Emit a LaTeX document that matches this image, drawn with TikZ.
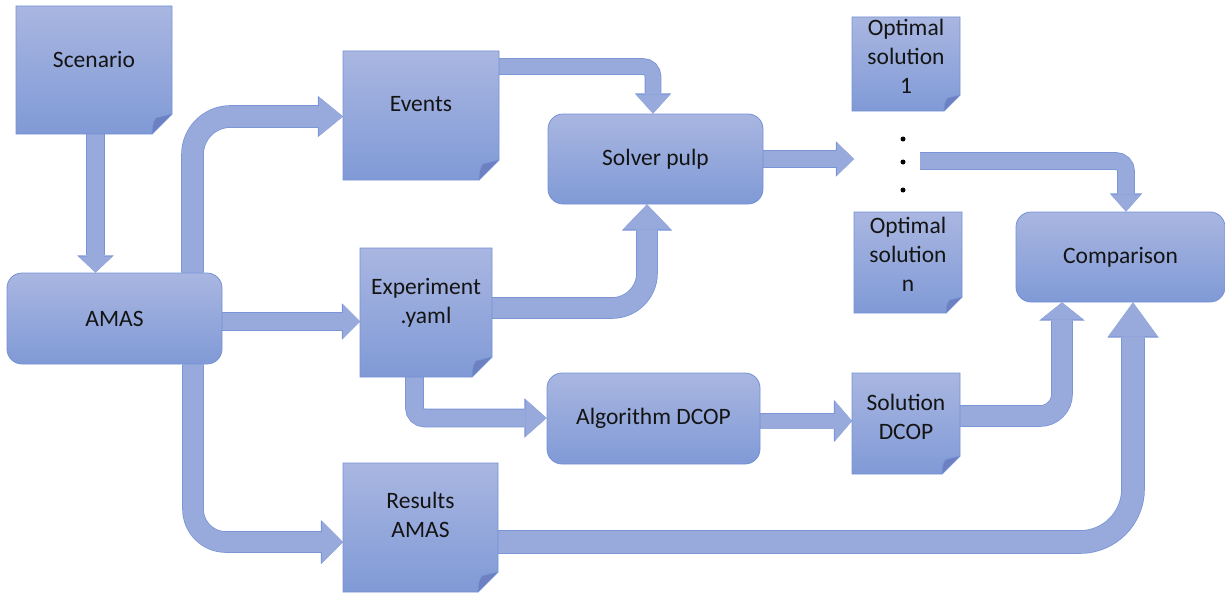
\documentclass[tikz,border=0pt]{standalone}
\usepackage{fontspec}
\setmainfont{Carlito}
\usetikzlibrary{arrows.meta,calc}
\definecolor{boxtop}{HTML}{A9B6E1}
\definecolor{boxbot}{HTML}{809AD6}
\definecolor{bord}{HTML}{7591D4}
\definecolor{foldc}{HTML}{6C80C2}
\definecolor{arfill}{HTML}{98AADC}
\definecolor{arbord}{HTML}{7A94D6}
\definecolor{txtcol}{HTML}{141414}
\pgfdeclarelayer{arw}
\pgfdeclarelayer{boxl}
\pgfsetlayers{arw,boxl,main}
\newcommand\blockarrow[5][]{%
  \pgfmathsetmacro\bwA{#2+1.6}\pgfmathsetmacro\bL{#3+1.2}\pgfmathsetmacro\bW{#4+2.4}%
  \draw[#1, line width=\bwA pt, draw=arbord, -{Triangle[length=\bL pt, width=\bW pt, line width=0pt, fill=arbord, color=arbord]}] #5;
  \draw[#1, line width=#2pt, draw=arfill, -{Triangle[length=#3pt, width=#4pt, line width=0pt, fill=arfill, color=arfill]}] #5;}
\tikzset{
  notebox/.style={rectangle, inner sep=0pt, outer sep=0pt},
  txt/.style={font=\fontsize{23.5}{29}\selectfont, text=txtcol, align=center, inner sep=0pt},
  rbox/.style={rectangle, rounded corners=15pt, draw=bord, line width=0.8pt,
    top color=boxtop, bottom color=boxbot, font=\fontsize{23.5}{29}\selectfont, text=txtcol, inner sep=0pt},
  dotn/.style={circle, fill=black, inner sep=0pt, minimum size=5pt}
}
\begin{document}
\begin{tikzpicture}[x=1pt,y=-1pt]
\useasboundingbox (0,0) rectangle (1225,594);
% note boxes (shapes drawn on layer)
\node[notebox, minimum width=156, minimum height=128] (scen) at (94,70) {};
\node[notebox, minimum width=156, minimum height=129] (events) at (421,115.5) {};
\node[notebox, minimum width=132, minimum height=129] (exp) at (426,312.5) {};
\node[notebox, minimum width=155, minimum height=129] (res) at (420.5,527.5) {};
\node[notebox, minimum width=108, minimum height=94] (opt1) at (906,64) {};
\node[notebox, minimum width=108, minimum height=101] (optn) at (908,262.5) {};
\node[notebox, minimum width=108, minimum height=101] (sol) at (906,423.5) {};
% texts of note boxes
\node[txt] (scen-t) at (94,60) {Scenario};
\node[txt] (events-t) at (421,104.5) {Events};
\node[txt] (exp-t) at (426,302.5) {Experiment\\.yaml};
\node[txt] (res-t) at (420.5,515) {Results\\AMAS};
\node[txt] (opt1-t) at (906,56) {Optimal\\solution\\1};
\node[txt] (optn-t) at (908,254) {Optimal\\solution\\n};
\node[txt] (sol-t) at (906,417) {Solution\\DCOP};
% rounded boxes
\node[rbox, minimum width=215, minimum height=91] (amas) at (114.5,318.5) {AMAS};
\node[rbox, minimum width=215, minimum height=90] (solver) at (655.5,159) {Solver pulp};
\node[rbox, minimum width=213, minimum height=91] (algo) at (653.5,418.5) {Algorithm DCOP};
\node[rbox, minimum width=209, minimum height=90] (comp) at (1120.5,257) {Comparison};
% dots
\node[dotn] (d1) at (903,139) {};
\node[dotn] (d2) at (903,162) {};
\node[dotn] (d3) at (903,190) {};
\coordinate (din) at (854,159);
\coordinate (dout) at (920,161);
\begin{pgfonlayer}{boxl}
\foreach \n/\f in {scen/20,events/20,exp/20,res/20,opt1/16,optn/16,sol/18}{
  \draw[bord, line width=0.8pt, top color=boxtop, bottom color=boxbot]
    (\n.north west) -- (\n.north east) -- ($(\n.south east)+(0,-\f)$)
    -- ($(\n.south east)+(-\f,0)$) -- (\n.south west) -- cycle;
  \draw[bord, line width=0.6pt, fill=foldc, line join=round]
    ($(\n.south east)+(-\f,0)$) .. controls ($(\n.south east)+(-0.95*\f,-0.55*\f)$) .. ($(\n.south east)+(-0.8*\f,-0.8*\f)$)
    -- ($(\n.south east)+(0,-\f)$) -- cycle;
}
\end{pgfonlayer}
\begin{pgfonlayer}{arw}
\blockarrow{17}{16}{34}{(95.5,0 |- scen.south) -- (95.5,0 |- amas.north)}
\blockarrow[rounded corners=38pt]{21}{24}{39}{(192.5,0 |- amas.north) |- (events.west |- 0,116.5)}
\blockarrow{17}{17}{34}{(amas.east |- 0,321.5) -- (exp.west |- 0,321.5)}
\blockarrow[rounded corners=33pt]{20}{21}{42}{(193,0 |- amas.south) |- (res.west |- 0,542)}
\blockarrow[rounded corners=10pt]{15}{19}{34}{(events.east |- 0,66.5) -| (653,0 |- solver.north)}
\blockarrow[rounded corners=35pt]{20}{25}{48}{(exp.east |- 0,308) -| (647,0 |- solver.south)}
\blockarrow[rounded corners=10pt]{17}{21}{37}{(414.5,0 |- exp.south) |- (algo.west |- 0,418)}
\blockarrow{16}{17}{33}{(solver.east |- 0,159) -- (din)}
\blockarrow[rounded corners=10pt]{16}{17}{30}{(dout) -| (1126,0 |- comp.north)}
\blockarrow{15}{17}{40}{(algo.east |- 0,421) -- (sol.west |- 0,421)}
\blockarrow[rounded corners=22pt]{20}{17}{43}{(sol.east |- 0,416) -| (1062,0 |- comp.south)}
\blockarrow[rounded corners=53pt]{22}{34}{49}{(res.east |- 0,542) -| (1133,0 |- comp.south)}
\end{pgfonlayer}
\end{tikzpicture}
\end{document}
